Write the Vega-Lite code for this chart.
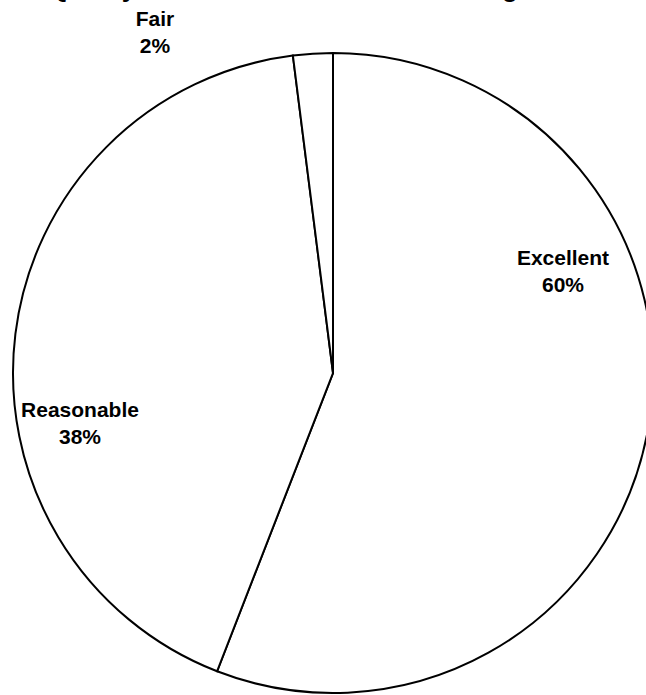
{
  "$schema": "https://vega.github.io/schema/vega-lite/v6.json",
  "autosize": "none",
  "width": 666,
  "height": 640,
  "padding": {"left": 0, "top": 53, "right": -20, "bottom": 2},
  "background": "white",
  "title": {
    "text": "Quality of the Overall Service Offering",
    "font": "Liberation Sans",
    "fontSize": 26,
    "fontWeight": "bold",
    "color": "black",
    "offset": 7,
    "dx": -50,
    "anchor": "middle"
  },
  "data": {
    "values": [
      {"rating": "Excellent", "share": 55.9, "label": "60%", "idx": 1},
      {"rating": "Reasonable", "share": 42.1, "label": "38%", "idx": 2},
      {"rating": "Fair", "share": 2.0, "label": "2%", "idx": 3}
    ]
  },
  "config": {"view": {"stroke": null}},
  "layer": [
    {
      "mark": {"type": "arc", "outerRadius": 320, "fill": "white", "stroke": "black", "strokeWidth": 2},
      "encoding": {
        "theta": {"field": "share", "type": "quantitative", "stack": true},
        "order": {"field": "idx", "type": "quantitative"}
      }
    },
    {
      "transform": [{"filter": "datum.rating === 'Excellent'"}, {"calculate": "datum.rating + '\\n' + datum.label", "as": "txt"}],
      "mark": {"type": "text", "font": "Liberation Sans", "fontSize": 21, "fontWeight": "bold", "lineHeight": 27, "lineBreak": "\n", "align": "center", "baseline": "middle", "dx": 230, "dy": -114},
      "encoding": {"text": {"field": "txt", "type": "nominal"}}
    },
    {
      "transform": [{"filter": "datum.rating === 'Reasonable'"}, {"calculate": "datum.rating + '\\n' + datum.label", "as": "txt"}],
      "mark": {"type": "text", "font": "Liberation Sans", "fontSize": 21, "fontWeight": "bold", "lineHeight": 27, "lineBreak": "\n", "align": "center", "baseline": "middle", "dx": -253, "dy": 38},
      "encoding": {"text": {"field": "txt", "type": "nominal"}}
    },
    {
      "transform": [{"filter": "datum.rating === 'Fair'"}, {"calculate": "datum.rating + '\\n' + datum.label", "as": "txt"}],
      "mark": {"type": "text", "font": "Liberation Sans", "fontSize": 21, "fontWeight": "bold", "lineHeight": 27, "lineBreak": "\n", "align": "center", "baseline": "middle", "dx": -178, "dy": -353},
      "encoding": {"text": {"field": "txt", "type": "nominal"}}
    }
  ]
}
